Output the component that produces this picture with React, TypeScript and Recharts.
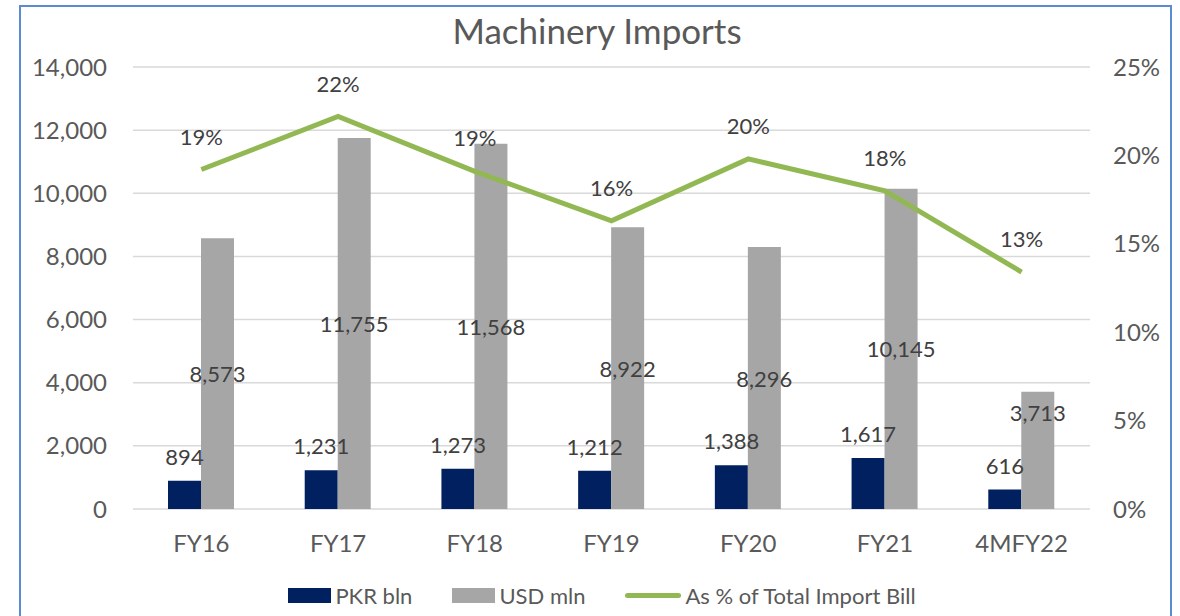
import { ComposedChart, Bar, Line, XAxis, YAxis, CartesianGrid, LabelList } from 'recharts'

const categories = ['FY16', 'FY17', 'FY18', 'FY19', 'FY20', 'FY21', '4MFY22']
const pkrBln = [894, 1231, 1273, 1212, 1388, 1617, 616]
const usdMln = [8573, 11755, 11568, 8922, 8296, 10145, 3713]
const shareOfImports = [19.2, 22.2, 19.1, 16.3, 19.8, 18.0, 13.4]
const leftTicks = [0, 2000, 4000, 6000, 8000, 10000, 12000, 14000]
const rightTicks = [0, 5, 10, 15, 20, 25]

const data = categories.map((c, i) => ({
  name: c,
  pkr: pkrBln[i],
  usd: usdMln[i],
  share: shareOfImports[i],
}))

const FONT = 'Lato, "Open Sans", sans-serif'
const tickStyle = { fill: '#595959', fontSize: 24, fontFamily: FONT }
const fmt = (v: number) => v.toLocaleString('en-US')

const legendItems = [
  { label: 'PKR bln', color: '#002060', kind: 'box' },
  { label: 'USD mln', color: '#a6a6a6', kind: 'box' },
  { label: 'As % of Total Import Bill', color: '#92b853', kind: 'line' },
]

// centred in the bar, but short bars get the label near their top so it clears the PKR label
const UsdLabel = (props: any) => {
  const { x, y, width, height, value } = props
  const cy = height < 150 ? y + 21 : y + height / 2
  return (
    <text x={x + width / 2} y={cy} textAnchor="middle" dominantBaseline="central" fill="#404040" fontSize={22} fontFamily={FONT}>
      {fmt(value)}
    </text>
  )
}

export default function App() {
  return (
    <div style={{ position: 'absolute', left: 0, top: 0, width: 1180, height: 616, overflow: 'hidden', background: '#fff' }}>
      <div
        style={{
          position: 'absolute', left: 19, top: 5, width: 1153, height: 640,
          border: '2px solid #5b8bd0', boxSizing: 'border-box',
        }}
      />
      <div
        style={{
          position: 'absolute', left: 0, top: 9, width: 1194, textAlign: 'center',
          fontFamily: FONT, fontSize: 35, color: '#595959',
        }}
      >
        Machinery Imports
      </div>
      <ComposedChart width={1180} height={616} data={data} margin={{ top: 67, right: 0, left: 0, bottom: 0 }} barGap={0} barSize={33}>
        <CartesianGrid vertical={false} stroke="#d9d9d9" strokeWidth={1.5} yAxisId="left" />
        <XAxis dataKey="name" height={107} tickLine={false} axisLine={false} tickSize={0} tickMargin={26} tick={tickStyle} interval={0} />
        <YAxis yAxisId="left" width={133} domain={[0, 14000]} ticks={leftTicks} tickFormatter={fmt} tickLine={false} axisLine={false} tickSize={0} tickMargin={26} tick={tickStyle} />
        <YAxis yAxisId="right" orientation="right" width={90} domain={[0, 25]} ticks={rightTicks} tickFormatter={(v: number) => `${v}%`} tickLine={false} axisLine={false} tickSize={0} tickMargin={23} tick={tickStyle} />
        <Bar yAxisId="left" dataKey="pkr" fill="#002060" isAnimationActive={false}>
          <LabelList dataKey="pkr" position="top" offset={16} formatter={(v: number) => fmt(v)} style={{ fill: '#404040', fontSize: 22, fontFamily: FONT }} />
        </Bar>
        <Bar yAxisId="left" dataKey="usd" fill="#a6a6a6" isAnimationActive={false}>
          <LabelList dataKey="usd" content={UsdLabel} />
        </Bar>
        <Line yAxisId="right" type="linear" dataKey="share" stroke="#92b853" strokeWidth={5} dot={false} isAnimationActive={false}>
          <LabelList dataKey="share" position="top" offset={25} formatter={(v: number) => `${Math.round(v)}%`} style={{ fill: '#404040', fontSize: 22, fontFamily: FONT }} />
        </Line>
      </ComposedChart>
      <div
        style={{
          position: 'absolute', left: 0, top: 582, width: 1180, display: 'flex', justifyContent: 'center',
          alignItems: 'center', gap: 40, fontFamily: FONT, fontSize: 22, color: '#595959', paddingLeft: 24, boxSizing: 'border-box',
        }}
      >
        {legendItems.map((it) => (
          <div key={it.label} style={{ display: 'flex', alignItems: 'center', gap: 4 }}>
            {it.kind === 'box' ? (
              <span style={{ display: 'inline-block', width: 43, height: 15, background: it.color }} />
            ) : (
              <span style={{ display: 'inline-block', width: 56, height: 5, borderRadius: 3, background: it.color }} />
            )}
            <span>{it.label}</span>
          </div>
        ))}
      </div>
    </div>
  )
}
